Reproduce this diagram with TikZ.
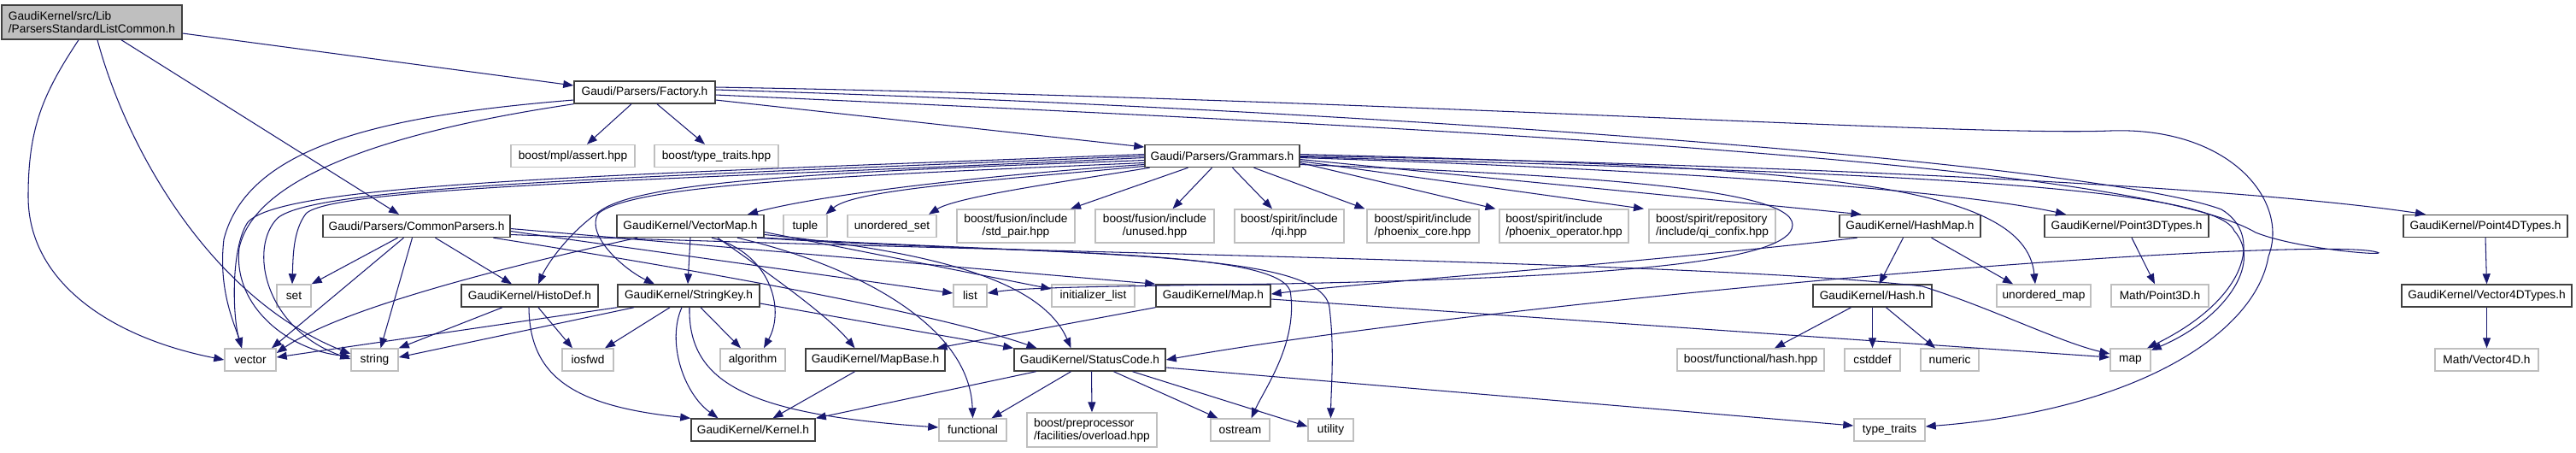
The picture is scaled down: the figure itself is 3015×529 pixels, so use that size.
\documentclass[tikz,border=0pt]{standalone}
\usepackage{fontspec}
\setmainfont{Liberation Sans}
\usetikzlibrary{
  arrows.meta
}
\definecolor{edgeblue}{HTML}{191970}
\definecolor{extgray}{HTML}{BFBFBF}
\definecolor{hdrgray}{HTML}{404040}
\tikzset{
  every node/.style={
    font=\fontsize{3.9}{4.3}\selectfont,
    inner sep=0pt
  },
  extbox/.style={draw=extgray, line width=0.4pt, fill=white, minimum height=0.26cm},
  hdrbox/.style={draw=hdrgray, line width=0.4pt, fill=white, minimum height=0.26cm},
  rootbox/.style={draw=hdrgray, line width=0.4pt, fill=extgray, minimum height=0.40cm, align=left},
  dep/.style={
    draw=edgeblue,
    line width=0.3pt,
    -{Triangle[length=0.12cm,width=0.09cm]}
  },
  px/.style={xshift=#1*0.01cm},
  py/.style={yshift=-#1*0.01cm}
}
\begin{document}
\begin{tikzpicture}[x=0.01cm,y=-0.01cm]
  \useasboundingbox (0,0) rectangle (3015,529);
  % headers
  \node[rootbox, minimum width=2.11cm] (root) at (107.5,26) {GaudiKernel/src/Lib\\/ParsersStandardListCommon.h};
  \node[hdrbox, minimum width=1.65cm] (factory) at (754.5,108) {Gaudi/Parsers/Factory.h};
  \node[extbox, minimum width=1.45cm] (assert) at (670.5,182.5) {boost/mpl/assert.hpp};
  \node[extbox, minimum width=1.45cm] (typetraitshpp) at (838.5,182.5) {boost/type\_traits.hpp};
  \node[hdrbox, minimum width=1.81cm] (grammars) at (1430.5,182.5) {Gaudi/Parsers/Grammars.h};
  \node[hdrbox, minimum width=2.19cm] (commonparsers) at (487.5,264.5) {Gaudi/Parsers/CommonParsers.h};
  \node[hdrbox, minimum width=1.72cm] (vectormap) at (808,264.5) {GaudiKernel/VectorMap.h};
  \node[extbox, minimum width=0.51cm] (tuple) at (942.5,264.5) {tuple};
  \node[extbox, minimum width=1.04cm] (unorderedset) at (1044,264.5) {unordered\_set};
  \node[extbox, minimum width=1.38cm, minimum height=0.39cm, align=center] (stdpair) at (1189,264.5) {boost/fusion/include\\/std\_pair.hpp};
  \node[extbox, minimum width=1.39cm, minimum height=0.39cm, align=center] (unused) at (1351.5,264.5) {boost/fusion/include\\/unused.hpp};
  \node[extbox, minimum width=1.28cm, minimum height=0.39cm, align=center] (qi) at (1509,264.5) {boost/spirit/include\\/qi.hpp};
  \node[extbox, minimum width=1.31cm, minimum height=0.39cm, align=left] (phoenixcore) at (1665.5,264.5) {boost/spirit/include\\/phoenix\_core.hpp};
  \node[extbox, minimum width=1.51cm, minimum height=0.39cm, align=left] (phoenixop) at (1830.5,264.5) {boost/spirit/include\\/phoenix\_operator.hpp};
  \node[extbox, minimum width=1.48cm, minimum height=0.39cm, align=left] (qiconfix) at (2004,264.5) {boost/spirit/repository\\/include/qi\_confix.hpp};
  \node[hdrbox, minimum width=1.65cm] (hashmap) at (2235.5,264.5) {GaudiKernel/HashMap.h};
  \node[hdrbox, minimum width=1.92cm] (point3d) at (2489,264.5) {GaudiKernel/Point3DTypes.h};
  \node[hdrbox, minimum width=1.92cm] (point4d) at (2909,264.5) {GaudiKernel/Point4DTypes.h};
  \node[extbox, minimum width=0.40cm] (set) at (344,346) {set};
  \node[hdrbox, minimum width=1.60cm] (histodef) at (620,346) {GaudiKernel/HistoDef.h};
  \node[hdrbox, minimum width=1.66cm] (stringkey) at (806,346) {GaudiKernel/StringKey.h};
  \node[extbox, minimum width=0.39cm] (list) at (1135.5,346) {list};
  \node[extbox, minimum width=0.97cm] (initlist) at (1279.5,346) {initializer\_list};
  \node[hdrbox, minimum width=1.34cm] (maph) at (1420,346) {GaudiKernel/Map.h};
  \node[hdrbox, minimum width=1.39cm] (hash) at (2191.5,346) {GaudiKernel/Hash.h};
  \node[extbox, minimum width=1.10cm] (unorderedmap) at (2392,346) {unordered\_map};
  \node[extbox, minimum width=1.14cm] (mathpoint3d) at (2528,346) {Math/Point3D.h};
  \node[hdrbox, minimum width=1.99cm] (vector4d) at (2910.5,346) {GaudiKernel/Vector4DTypes.h};
  \node[extbox, minimum width=0.60cm] (vector) at (293,421) {vector};
  \node[extbox, minimum width=0.55cm] (string) at (438.5,421) {string};
  \node[extbox, minimum width=0.60cm] (iosfwd) at (688,421) {iosfwd};
  \node[extbox, minimum width=0.76cm] (algorithm) at (881,421) {algorithm};
  \node[hdrbox, minimum width=1.63cm] (mapbase) at (1024.5,421) {GaudiKernel/MapBase.h};
  \node[hdrbox, minimum width=1.77cm] (statuscode) at (1275.5,421) {GaudiKernel/StatusCode.h};
  \node[extbox, minimum width=1.72cm] (hashhpp) at (2049,421) {boost/functional/hash.hpp};
  \node[extbox, minimum width=0.65cm] (cstddef) at (2191.5,421) {cstddef};
  \node[extbox, minimum width=0.68cm] (numeric) at (2282,421) {numeric};
  \node[extbox, minimum width=0.47cm] (map) at (2493.5,421) {map};
  \node[extbox, minimum width=1.21cm] (mathvector4d) at (2910.5,421) {Math/Vector4D.h};
  \node[hdrbox, minimum width=1.45cm] (kernel) at (881.5,503) {GaudiKernel/Kernel.h};
  \node[extbox, minimum width=0.79cm] (functional) at (1138.5,503) {functional};
  \node[extbox, minimum width=1.52cm, minimum height=0.40cm, align=left] (preproc) at (1278,503) {boost/preprocessor\\/facilities/overload.hpp};
  \node[extbox, minimum width=0.69cm] (ostream) at (1451.5,503) {ostream};
  \node[extbox, minimum width=0.53cm] (utility) at (1557.5,503) {utility};
  \node[extbox, minimum width=0.83cm] (typetraits) at (2211.5,503) {type\_traits};

  % root
  \draw[dep] ([px=-15.5]root.south) .. controls (50,110) and (33,150) .. (33,230) .. controls (33,330) and (130,395) .. (vector.west);
  \draw[dep] ([px=6.5]root.south) .. controls (150,180) and (250,350) .. ([py=-7]string.west);
  \draw[dep] ([px=34.5]root.south) -- ([px=-20.5]commonparsers.north);
  \draw[dep] ([py=13]root.east) -- ([py=-8]factory.west);

  % Factory.h
  \draw[dep] ([py=9]factory.west) .. controls (450,135) and (290,170) .. (262,280) .. controls (255,340) and (275,380) .. ([px=-10]vector.north);
  \draw[dep] (factory.south west) .. controls (480,150) and (300,200) .. (280,290) .. controls (272,360) and (340,410) .. ([py=-4]string.west);
  \draw[dep] ([px=-15.5]factory.south) -- ([px=16.5]assert.north);
  \draw[dep] ([px=14.5]factory.south) -- ([px=-13.5]typetraitshpp.north);
  \draw[dep] ([py=9]factory.east) -- ([py=-10.5]grammars.west);
  \draw[dep] ([py=-3]factory.east) .. controls (1600,128) and (2450,190) .. (2600,245) .. controls (2650,275) and (2630,350) .. (map.35);
  \draw[dep] ([py=-6]factory.east) .. controls (1600,115) and (2300,160) .. (2470,153) .. controls (2610,148) and (2680,235) .. (2655,300) .. controls (2640,390) and (2500,480) .. ([py=-4]typetraits.east);
  \draw[dep] ([py=3]factory.east) .. controls (1700,150) and (2500,190) .. (2640,272) .. controls (2690,292) and (2800,300) .. (2782,295) .. controls (2765,290) and (2700,291) .. (2640,293) .. controls (2300,305) and (1650,370) .. (statuscode.east);

  % Grammars.h
  \draw[dep] ([py=-2]grammars.west) .. controls (700,205) and (330,215) .. (290,260) .. controls (270,290) and (272,370) .. ([px=-10]vector.north);
  \draw[dep] (grammars.west) .. controls (720,208) and (370,218) .. (325,255) .. controls (290,290) and (310,385) .. ([py=-1]string.west);
  \draw[dep] ([py=2]grammars.west) .. controls (800,210) and (390,218) .. (358,250) .. controls (343,270) and (343,300) .. ([px=-2]set.north);
  \draw[dep] ([py=5]grammars.west) .. controls (1000,200) and (760,210) .. (705,245) .. controls (665,272) and (640,310) .. ([px=10]histodef.north);
  \draw[dep] ([py=8]grammars.west) .. controls (1000,205) and (740,215) .. (700,250) .. controls (685,275) and (730,315) .. ([px=-40]stringkey.north);
  \draw[dep] ([py=10]grammars.west) .. controls (1150,205) and (960,228) .. ([px=67]vectormap.north);
  \draw[dep] ([py=12]grammars.west) .. controls (1150,212) and (1000,222) .. ([px=24]tuple.north);
  \draw[dep] ([px=-85]grammars.south) .. controls (1250,212) and (1120,230) .. ([px=43]unorderedset.north);
  \draw[dep] ([px=-40]grammars.south) -- ([px=64]stdpair.north);
  \draw[dep] ([px=-12]grammars.south) -- ([px=21]unused.north);
  \draw[dep] ([px=12]grammars.south) -- ([px=-20]qi.north);
  \draw[dep] ([px=37]grammars.south) -- ([px=-68]phoenixcore.north);
  \draw[dep] ([py=8]grammars.east) -- ([px=-80]phoenixop.north);
  \draw[dep] ([py=6]grammars.east) -- ([px=-80]qiconfix.north);
  \draw[dep] ([py=4]grammars.east) -- ([px=-57]hashmap.north);
  \draw[dep] ([py=2]grammars.east) .. controls (2000,200) and (2300,225) .. ([px=-71]point3d.north);
  \draw[dep] (grammars.east) .. controls (2000,190) and (2600,215) .. ([px=-70]point4d.north);
  \draw[dep] ([py=-2]grammars.east) .. controls (2100,195) and (2370,210) .. ([px=-10]unorderedmap.north);
  \draw[dep] ([py=1]grammars.east) .. controls (2100,200) and (2590,212) .. (2615,270) .. controls (2650,310) and (2600,375) .. (map.25);
  \draw[dep] ([py=10]grammars.east) .. controls (1850,205) and (2098,220) .. (2098,263) .. controls (2098,310) and (1850,325) .. (1500,332) .. controls (1300,335) and (1200,336) .. ([py=-3]list.east);

  % CommonParsers.h
  \draw[dep] ([px=-22]commonparsers.south) -- (set.north east);
  \draw[dep] ([px=-15]commonparsers.south) -- ([px=25]vector.north);
  \draw[dep] ([px=-5]commonparsers.south) -- ([px=7]string.north);
  \draw[dep] ([px=22]commonparsers.south) -- ([px=-21]histodef.north);
  \draw[dep] ([px=90]commonparsers.south) .. controls (1000,345) and (1150,385) .. ([px=-62]statuscode.north);
  \draw[dep] ([py=3]commonparsers.east) -- (maph.north west);
  \draw[dep] ([py=6]commonparsers.east) -- ([py=-3]list.west);
  \draw[dep] ([py=10]commonparsers.east) .. controls (1200,296) and (2000,306) .. (2250,335) .. controls (2330,360) and (2410,400) .. ([py=-7]map.west);

  % VectorMap.h
  \draw[dep] ([px=-62]vectormap.south) .. controls (600,310) and (400,360) .. ([py=-8]vector.east);
  \draw[dep] (vectormap.south) -- ([px=-1]stringkey.north);
  \draw[dep] ([px=25]vectormap.south) .. controls (900,295) and (920,360) .. ([px=13]algorithm.north);
  \draw[dep] ([px=32]vectormap.south) .. controls (900,320) and (970,370) .. ([px=-24]mapbase.north);
  \draw[dep] ([py=7]vectormap.east) -- ([py=-8]initlist.west);
  \draw[dep] ([px=55]vectormap.south) .. controls (1000,310) and (1135,380) .. (functional.north);
  \draw[dep] ([py=10]vectormap.east) .. controls (1100,295) and (1220,330) .. ([px=-22]statuscode.north);
  \draw[dep] ([px=78]vectormap.south) .. controls (1200,298) and (1490,290) .. (1510,340) .. controls (1520,400) and (1480,455) .. ([px=13]ostream.north);
  \draw[dep] (vectormap.south east) .. controls (1300,300) and (1548,295) .. (1556,360) .. controls (1562,410) and (1558,450) .. (utility.north);

  % StringKey.h
  \draw[dep] (stringkey.south west) -- ([py=-3]vector.east);
  \draw[dep] ([px=-64]stringkey.south) -- ([py=-3]string.east);
  \draw[dep] ([px=-22]stringkey.south) -- ([px=20]iosfwd.north);
  \draw[dep] ([px=-8]stringkey.south) .. controls (780,400) and (800,460) .. ([px=-41]kernel.north);
  \draw[dep] ([px=1]stringkey.south) .. controls (805,450) and (880,485) .. ([py=-3]functional.west);
  \draw[dep] ([px=14]stringkey.south) -- ([px=-14]algorithm.north);
  \draw[dep] ([py=9]stringkey.east) -- (statuscode.north west);

  % HistoDef.h
  \draw[dep] ([px=-32]histodef.south) -- (string.north east);
  \draw[dep] ([px=10]histodef.south) -- ([px=-18]iosfwd.north);
  \draw[dep] ([px=-1]histodef.south) .. controls (620,440) and (670,475) .. (kernel.north west);

  % Map.h, HashMap.h, Hash.h
  \draw[dep] (maph.south west) -- ([px=72]mapbase.north);
  \draw[dep] ([py=4]maph.east) -- ([py=-3]map.west);
  \draw[dep] ([px=-62]hashmap.south) .. controls (1900,310) and (1600,330) .. ([py=-2]maph.east);
  \draw[dep] ([px=-8]hashmap.south) -- ([px=8]hash.north);
  \draw[dep] ([px=25]hashmap.south) -- ([px=-36]unorderedmap.north);
  \draw[dep] ([px=-25]hash.south) -- ([px=28]hashhpp.north);
  \draw[dep] (hash.south) -- (cstddef.north);
  \draw[dep] ([px=16]hash.south) -- ([px=-17]numeric.north);

  % points and vectors
  \draw[dep] ([px=6]point3d.south) -- ([px=-6]mathpoint3d.north);
  \draw[dep] (point4d.south) -- (vector4d.north);
  \draw[dep] (vector4d.south) -- (mathvector4d.north);

  % MapBase.h, StatusCode.h
  \draw[dep] ([px=-24]mapbase.south) -- ([px=23]kernel.north);
  \draw[dep] ([px=-63]statuscode.south) -- (kernel.north east);
  \draw[dep] ([px=-22]statuscode.south) -- ([px=22]functional.north);
  \draw[dep] ([px=2]statuscode.south) -- (preproc.north);
  \draw[dep] ([px=28]statuscode.south) -- ([px=-26]ostream.north);
  \draw[dep] ([px=50]statuscode.south) -- ([py=-4]utility.west);
  \draw[dep] ([py=9]statuscode.east) -- ([py=-5]typetraits.west);
\end{tikzpicture}
\end{document}
